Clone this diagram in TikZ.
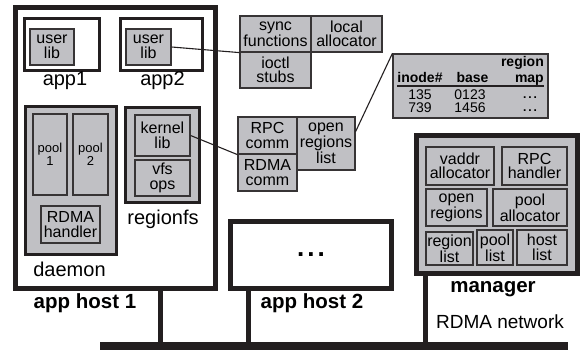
\documentclass[tikz,border=0pt]{standalone}
\usepackage{fontspec}
\setmainfont{Liberation Sans}
\usetikzlibrary{calc}
\definecolor{boxgray}{RGB}{192,192,196}
\definecolor{ink}{RGB}{35,31,32}
\definecolor{edge}{RGB}{55,52,53}
\tikzset{
  gbox/.style={draw=edge, fill=boxgray, line width=1.2pt, inner sep=0pt, align=center,
    font=\fontsize{16}{14.5}\selectfont},
  thickbox/.style={draw=ink, line width=5pt},
  midbox/.style={draw=ink, line width=3pt},
  lbl/.style={inner sep=0pt, anchor=base, font=\fontsize{20}{20}\selectfont},
  blbl/.style={inner sep=0pt, anchor=base, font=\fontsize{20.5}{20}\selectfont\bfseries},
  tbl/.style={inner sep=0pt, anchor=base, font=\fontsize{14}{14}\selectfont},
  conn/.style={draw=ink, line width=1.1pt},
  post/.style={draw=ink, line width=5pt},
}
\begin{document}
\begin{tikzpicture}[x=1pt, y=-1pt]
\useasboundingbox (0,0) rectangle (584,350);
% network bar
\fill[ink] (100,342) rectangle (568,350);
\coordinate (bar1) at (160,342);
\coordinate (bar2) at (248,342);
\coordinate (bar3) at (425,342);
% hosts
\node[thickbox, minimum width=200pt, minimum height=280pt, inner sep=0pt] (host1) at (115,148) {};
\node[thickbox, minimum width=161pt, minimum height=67pt, inner sep=0pt] (host2) at (310.5,254.5) {};
\node[thickbox, fill=boxgray, minimum width=161pt, minimum height=137pt, inner sep=0pt] (mgr) at (496.5,204.5) {};
\draw[post] (host1.south -| bar1) -- (bar1);
\draw[post] (host2.south -| bar2) -- (bar2);
\draw[post] (mgr.south -| bar3) -- (bar3);
% host 1 contents
\node[midbox, minimum width=75pt, minimum height=52pt, inner sep=0pt] (app1) at (61.5,45) {};
\node[midbox, minimum width=82pt, minimum height=52pt, inner sep=0pt] (app2) at (161,45) {};
\node[gbox, minimum width=44pt, minimum height=36pt] (ul1) at (52,47) {user\\lib};
\node[gbox, minimum width=45pt, minimum height=36pt] (ul2) at (148.5,47) {user\\lib};
\node[lbl] (app1l) at (65,86) {app1};
\node[lbl] (app2l) at (162.5,86) {app2};
\node[midbox, fill=boxgray, minimum width=91pt, minimum height=147pt, inner sep=0pt] (daemon) at (70.5,180.5) {};
\node[gbox, minimum width=34pt, minimum height=81pt, font=\fontsize{13}{12.5}\selectfont] (pool1) at (50,154.5) {pool\\1};
\node[gbox, minimum width=35pt, minimum height=81pt, font=\fontsize{13}{12.5}\selectfont] (pool2) at (90.5,154.5) {pool\\2};
\node[gbox, minimum width=59pt, minimum height=37pt] (rdmah) at (70.5,224.5) {RDMA\\handler};
\node[lbl] (daemonl) at (69.5,276) {daemon};
\node[midbox, fill=boxgray, minimum width=74pt, minimum height=95pt, inner sep=0pt] (regionfs) at (162,155.5) {};
\node[gbox, minimum width=55pt, minimum height=41pt] (klib) at (162.5,135.5) {kernel\\lib};
\node[gbox, minimum width=55pt, minimum height=36pt] (vfs) at (162.5,178) {vfs\\ops};
\node[lbl] (regionfsl) at (163,224) {regionfs};
\node[blbl] (host1l) at (85,308) {app host 1};
% host 2
\node[inner sep=0pt, anchor=base, font=\fontsize{26}{26}\selectfont\bfseries] (dots) at (311,256) {.\kern3pt.\kern3pt.};
\node[blbl] (host2l) at (312,308) {app host 2};
% manager
\node[gbox, minimum width=68pt, minimum height=38pt] (vaddr) at (460,166) {vaddr\\allocator};
\node[gbox, minimum width=65pt, minimum height=38pt] (rpch) at (534.5,166) {RPC\\handler};
\node[gbox, minimum width=61pt, minimum height=37pt] (openr) at (456.5,207.5) {open\\regions};
\node[gbox, minimum width=74pt, minimum height=37pt] (poola) at (530,207.5) {pool\\allocator};
\node[gbox, minimum width=47pt, minimum height=33pt] (regl) at (449.5,248.5) {region\\list};
\node[gbox, minimum width=36pt, minimum height=35pt] (pooll) at (495,247.5) {pool\\list};
\node[gbox, minimum width=50pt, minimum height=35pt] (hostl) at (542,247.5) {host\\list};
\node[blbl] (mgrl) at (493,292) {manager};
\node[lbl, font=\fontsize{19}{19}\selectfont] (netl) at (500,328) {RDMA network};
% middle detail boxes
\node[gbox, minimum width=71pt, minimum height=36pt] (sync) at (275.5,34) {sync\\functions};
\node[gbox, minimum width=71pt, minimum height=36pt] (local) at (346.5,34) {local\\allocator};
\node[gbox, minimum width=71pt, minimum height=36pt] (ioctl) at (275.5,70) {ioctl\\stubs};
\node[gbox, minimum width=59pt, minimum height=37pt] (rpcc) at (267.5,135.5) {RPC\\comm};
\node[gbox, minimum width=59pt, minimum height=37pt] (rdmac) at (267.5,172.5) {RDMA\\comm};
\node[gbox, minimum width=58pt, minimum height=53pt] (orl) at (326,143.5) {open\\regions\\list};
% table
\node[gbox, minimum width=155pt, minimum height=64pt] (tab) at (470.5,86) {};
\node[tbl, font=\fontsize{14}{14}\selectfont\bfseries, anchor=base east] (hreg) at (544,67) {region};
\node[tbl, font=\fontsize{14}{14}\selectfont\bfseries, anchor=base east] (hmap) at (544,83) {map};
\node[tbl, font=\fontsize{14}{14}\selectfont\bfseries] (hino) at (420,83) {inode\#};
\node[tbl, font=\fontsize{14}{14}\selectfont\bfseries] (hbase) at (472.5,83) {base};
\coordinate (ulA) at (397,86);
\coordinate (ulB) at (544,86);
\draw[conn] (ulA) -- (ulB);
\node[tbl] (r1a) at (420,100) {135};
\node[tbl] (r1b) at (470,100) {0123};
\node[tbl, font=\fontsize{12}{12}\selectfont\bfseries] (r1c) at (530,99) {.\kern2pt.\kern2pt.};
\node[tbl] (r2a) at (420,113) {739};
\node[tbl] (r2b) at (470,113) {1456};
\node[tbl, font=\fontsize{12}{12}\selectfont\bfseries] (r2c) at (530,112) {.\kern2pt.\kern2pt.};
% connectors
\draw[conn] (ul2.east) -- (sync.south west);
\draw[conn] (klib.east) -- (rpcc.south west);
\coordinate (orlp) at ($(orl.north east)!0.28!(orl.south east)$);
\draw[conn] (orlp) -- (tab.north west);
\end{tikzpicture}
\end{document}
